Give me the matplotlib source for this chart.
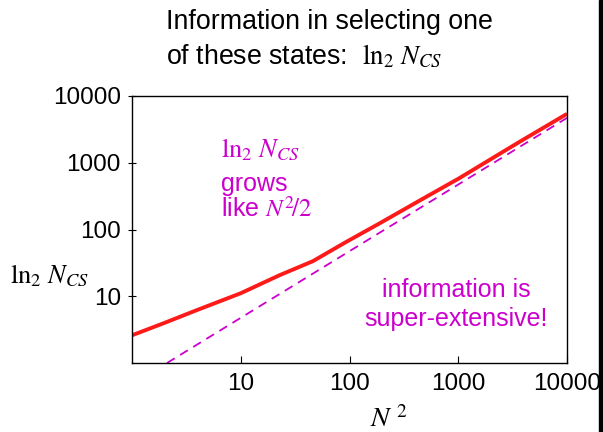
import matplotlib
matplotlib.use("Agg")
import matplotlib.pyplot as plt
from matplotlib.patches import Rectangle

# values (N^2 vs ln2 N_CS)
n_sq = [1.0, 1.92, 3.95, 10, 22.8, 46, 93, 188, 439, 1000, 3630, 10000]
info = [2.6, 3.9, 6.2, 11.1, 20.7, 33.5, 65, 123, 270, 575, 2040, 5400]

# reference line, grows like N^2/2
ref_x = [2.1, 10000]
ref_y = [1.0, 4700]

xticks = [10, 100, 1000, 10000]
yticks = [10, 100, 1000, 10000]

plt.rcParams["font.family"] = ["Liberation Sans", "DejaVu Sans"]
plt.rcParams["mathtext.fontset"] = "stix"

magenta = "#cc00cc"
red = "#ff1a1a"

fig = plt.figure(figsize=(6.03, 4.32), dpi=100)
ax = fig.add_axes([132 / 603, 69 / 432, 435 / 603, 267 / 432])

ax.plot(n_sq, info, color=red, lw=2.8, solid_capstyle="butt")
ax.plot(ref_x, ref_y, color=magenta, lw=1.3, ls=(0, (5, 3.5)))

ax.set_xscale("log")
ax.set_yscale("log")
ax.set_xlim(1, 10000)
ax.set_ylim(1, 10000)
ax.set_xticks(xticks)
ax.set_xticklabels([str(t) for t in xticks])
ax.set_yticks(yticks)
ax.set_yticklabels([str(t) for t in yticks])
ax.minorticks_off()
ax.tick_params(direction="in", length=5, width=0.8, labelsize=17.5, pad=7)
ax.tick_params(axis="y", direction="inout", length=6, pad=5)
for sp in ax.spines.values():
    sp.set_linewidth(1.0)

ax.set_xlabel(r"$N^{\ 2}$", fontsize=20)
ax.xaxis.set_label_coords(0.59, -0.16)
fig.text(10 / 603, 1 - 276 / 432, r"$\mathrm{ln}_2\ N_{CS}$", fontsize=19, va="center", ha="left")

# annotations inside the plot
ax.text(0.205, 0.80, r"$\mathrm{ln}_2\ N_{CS}$", transform=ax.transAxes, color=magenta, fontsize=19, va="center")
ax.text(0.205, 0.67, "grows", transform=ax.transAxes, color=magenta, fontsize=18, va="center")
ax.text(0.205, 0.575, r"like $N^2\!/2$", transform=ax.transAxes, color=magenta, fontsize=18, va="center")
ax.text(0.745, 0.22, "information is\nsuper-extensive!", transform=ax.transAxes, color=magenta,
        fontsize=18, ha="center", va="center", linespacing=1.25)

# title lines
fig.text(166 / 603, 1 - 22 / 432, "Information in selecting one", fontsize=19.3, va="center")
fig.text(166 / 603, 1 - 57 / 432, r"of these states:  $\mathrm{ln}_2\ N_{CS}$", fontsize=19.3, va="center")

# dark bar on the right edge
fig.patches.append(Rectangle((599 / 603, 0), 4 / 603, 1, transform=fig.transFigure, color="black"))

fig.savefig("out.png", dpi=100)
